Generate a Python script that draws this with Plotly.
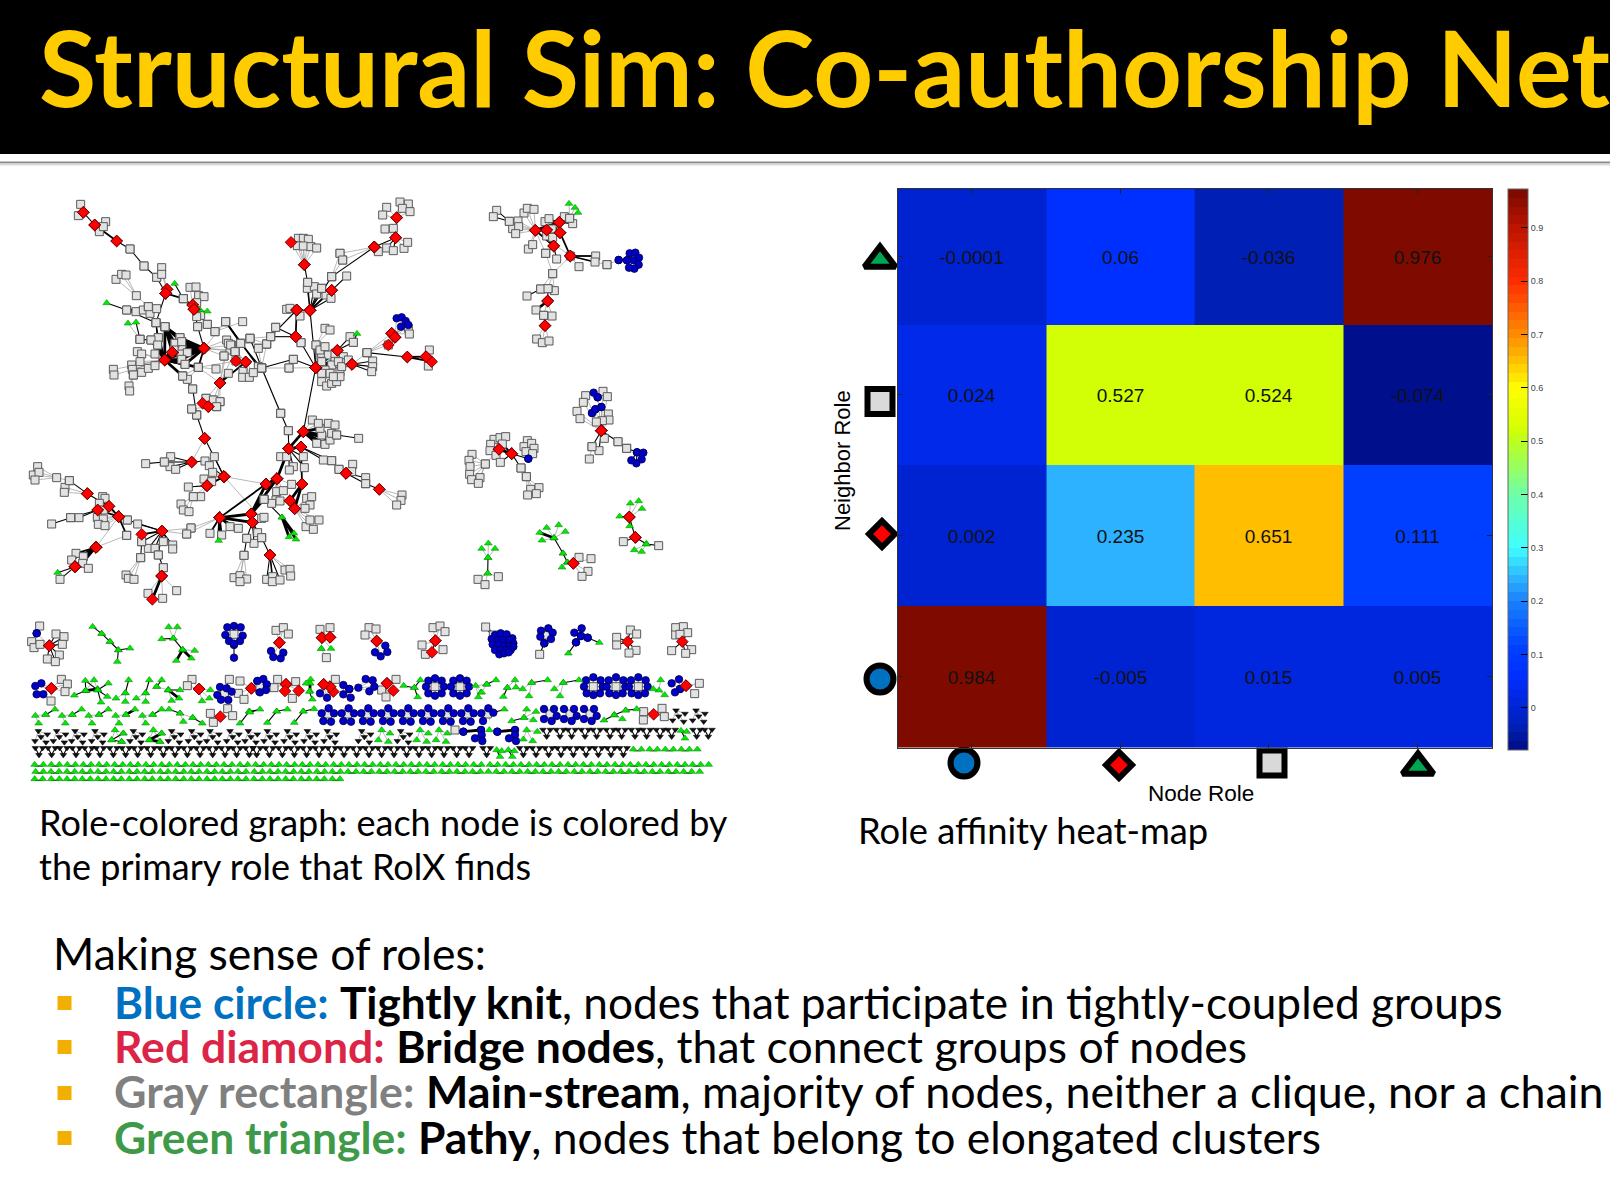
import plotly.graph_objects as go

# ---------- heat-map data ----------
node_roles = ["circle", "diamond", "square", "triangle"]
neighbor_roles = ["circle", "diamond", "square", "triangle"]
row_circle = [0.984, -0.005, 0.015, 0.005]
row_diamond = [0.002, 0.235, 0.651, 0.111]
row_square = [0.024, 0.527, 0.524, -0.074]
row_triangle = [-0.0001, 0.06, -0.036, 0.976]
labels_circle = ["0.984", "-0.005", "0.015", "0.005"]
labels_diamond = ["0.002", "0.235", "0.651", "0.111"]
labels_square = ["0.024", "0.527", "0.524", "-0.074"]
labels_triangle = ["-0.0001", "0.06", "-0.036", "0.976"]
colorbar_ticks = [0, 0.1, 0.2, 0.3, 0.4, 0.5, 0.6, 0.7, 0.8, 0.9]
column_edges = [897.5, 1046, 1194, 1343, 1492]
row_edges = [747.5, 606, 465, 324.5, 189]
ramp_values = [-0.079, -0.036, 0.0, 0.06, 0.111, 0.2, 0.235, 0.3, 0.4, 0.5, 0.527, 0.6, 0.651, 0.7, 0.8, 0.9, 0.973]
ramp_colors = [(0,12,130), (0,32,184), (0,36,215), (0,48,255), (0,64,255), (25,130,255), (42,170,255), (64,255,255), (110,255,170),
               (190,255,30), (216,255,0), (255,255,0), (255,192,0), (255,140,0), (255,45,0), (190,20,0), (120,10,0)]

# ---------- network data: (hub role, hub x, hub y, leaf role, edge weight, [leaf x, leaf y, ...]) ----------
main_stars = [
 ('r',190,97,'g',0,[182,73,175,107]), ('r',190,97,'r',1,[224,135]), ('r',224,135,'r',2,[290,183]),
 ('r',224,135,'g',1,[257,125,238,155,250,140]), ('r',290,183,'g',1,[330,207]), ('g',330,207,'g',1,[372,258]),
 ('g',372,258,'g',1,[410,292]), ('g',410,292,'r',1,[437,340]), ('r',441,328,'g',0,[425,263,425,283]),
 ('r',437,340,'r',2,[441,328]), ('r',437,340,'g',2,[490,356]), ('g',490,356,'r',1,[518,375,522,388]),
 ('t',464,311,'g',1,[490,356]), ('r',518,375,'g',0,[510,322,528,321,536,347,552,350,530,368,542,406,530,410]),
 ('r',522,388,'t',0,[540,390,562,394]), ('r',522,388,'g',1,[533,440,562,433]), ('g',533,440,'r',1,[552,505]),
 ('g',562,433,'g',1,[585,455]), ('g',585,455,'g',0,[617,425,668,425]), ('r',437,340,'g',1,[408,428]),
 ('t',260,369,'g',1,[320,390]), ('g',320,390,'g',1,[348,395,370,390,385,380,390,400,410,386,408,428]),
 ('g',349,347,'g',0,[288,298,305,283,318,285,385,380]), ('t',348,427,'g',1,[360,478]),
 ('g',360,478,'t',0,[324,430]), ('g',360,478,'g',1,[393,480]), ('g',408,428,'g',1,[435,440,415,473,413,495]),
 ('r',434,540,'g',3,[435,440,415,473,393,480,413,495,465,490,485,505,488,588]),
 ('r',434,540,'g',0,[352,515,365,522,360,545,335,555,337,568,365,577,385,565,405,557,405,522,280,568,282,585,340,585]),
 ('r',434,540,'r',3,[457,517]), ('r',434,540,'g',3,[535,562,483,522,485,538,495,553]), ('g',340,585,'g',0,[327,618,329,633]),
 ('r',552,505,'g',3,[480,473,485,485,465,490,462,510,485,505,483,522,502,518,485,538,495,553]), ('r',552,505,'r',3,[457,517]),
 ('g',435,440,'g',3,[480,473,465,490,462,510,485,485]), ('g',435,440,'r',3,[457,517]), ('r',552,505,'g',2,[535,562]),
 ('r',552,505,'g',0,[612,528,620,480,635,495,617,425,630,510,645,515]),
 ('g',535,562,'g',0,[488,588,502,598,588,567,648,543]), ('g',488,588,'g',1,[518,627]), ('r',600,609,'g',2,[625,580]),
 ('r',600,609,'g',0,[535,562,645,515,612,528,625,490]), ('r',600,609,'r',2,[677,546]), ('g',617,425,'g',2,[662,490,715,560]),
 ('r',677,546,'r',1,[648,543]), ('r',677,546,'g',0,[669,574,668,592,688,592,700,578,632,495,645,515]),
 ('g',725,564,'g',1,[690,475,662,490]), ('g',725,564,'g',0,[715,505,740,492,807,564]), ('g',725,564,'g',1,[820,538]),
 ('g',740,492,'g',0,[662,490,690,475]), ('g',752,470,'r',1,[827,470]), ('g',752,470,'g',0,[767,442,740,492,690,475]),
 ('r',827,470,'r',2,[830,390]), ('r',827,470,'g',1,[767,442,843,488]), ('r',830,390,'g',0,[800,388,840,408,810,385]),
 ('r',830,390,'g',1,[752,470]), ('g',843,488,'r',1,[887,563]), ('g',820,538,'r',1,[887,563]), ('g',807,564,'r',0,[887,563]),
 ('r',870,391,'r',1,[887,563,830,390]), ('r',870,391,'g',1,[863,307,862,325,883,320,890,342,918,345,905,325,933,355]),
 ('r',870,391,'r',2,[935,331]), ('r',853,254,'g',1,[863,307]),
 ('r',853,254,'g',0,[835,175,850,175,865,178,832,197,850,198,873,200,890,204]), ('r',853,254,'r',0,[813,187]),
 ('r',935,331,'g',1,[980,288]), ('r',935,331,'g',0,[905,325]), ('g',935,290,'g',0,[960,220,968,240]), ('g',935,290,'r',1,[1063,201]),
 ('r',870,391,'g',1,[935,290]), ('r',1063,201,'g',1,[1075,215]), ('r',1063,201,'g',0,[960,220,968,240]),
 ('r',1127,173,'g',1,[1100,204,1120,212]), ('r',1127,173,'g',0,[1152,205,1163,187,1095,147,1120,145]),
 ('r',1127,173,'r',1,[1063,201,1130,113]), ('r',1130,113,'g',0,[1140,66,1165,72,1147,85,1170,95,1100,82,1088,105]),
 ('g',888,495,'r',1,[887,563]), ('g',888,495,'g',0,[915,445,930,450]), ('r',887,563,'r',3,[952,511]),
 ('r',887,563,'g',3,[905,520,925,525,945,540,935,555,915,570,905,545]),
 ('r',887,563,'g',0,[970,530,960,575,930,580,905,605,920,618,935,610,950,605,960,590,975,548,900,510,915,500,945,520,955,545,905,580,940,590,965,560,985,540]), ('r',887,563,'r',0,[996,553]),
 ('r',952,511,'g',1,[1000,487,990,470]), ('g',1000,487,'t',1,[1011,461]), ('r',996,553,'g',1,[1058,543,1058,560,1055,575]),
 ('r',996,553,'g',0,[1041,518]), ('g',1041,518,'r',1,[1162,531]), ('g',1041,518,'r',0,[1115,460,1125,472,1105,495]),
 ('r',1162,531,'r',2,[1218,530,1235,545]), ('r',1218,530,'g',0,[1228,510,1225,558]),
 ('r',1115,460,'r',3,[1125,472]), ('r',1115,460,'g',0,[1105,495,1165,445,1168,462]), ('r',1125,472,'b',0,[1130,415,1145,412,1157,423,1165,435,1143,440]),
 # lower ring
 ('g',518,627,'g',1,[530,705]), ('g',530,705,'r',1,[554,775]), ('g',530,705,'g',0,[515,687]),
 ('r',600,609,'g',0,[558,655,580,660,600,665,590,680]), ('r',565,680,'r',2,[548,670]), ('r',565,680,'g',0,[558,655,580,660,600,665,590,680,515,687]),
 ('r',554,775,'r',1,[612,890]), ('r',554,775,'r',0,[515,846]), ('r',515,846,'g',1,[433,846,450,860,467,868,452,830,555,843]),
 ('g',433,846,'g',1,[377,851]), ('r',612,890,'g',1,[583,830,568,857]), ('r',612,890,'g',0,[578,877,552,897,575,905]),
 ('r',612,890,'r',2,[561,917]), ('r',612,890,'r',0,[738,912]), ('r',612,890,'g',0,[725,1015]),
 ('r',561,917,'g',1,[505,921]), ('r',561,917,'g',0,[520,950,542,950]), ('g',520,950,'g',0,[483,972,490,990,507,995]),
 ('g',725,564,'g',0,[782,700]), ('g',725,564,'g',1,[782,700]), ('g',782,700,'g',1,[805,752]), ('g',805,752,'r',1,[806,806]),
 ('r',887,563,'r',1,[850,755]), ('r',850,755,'r',3,[806,806]), ('r',850,755,'g',3,[905,765,890,790,915,793,930,780,900,745]),
 ('r',850,755,'g',0,[877,720,895,730,925,730,945,735,935,760,950,765]), ('g',950,765,'g',1,[1016,775]),
 ('r',806,806,'r',3,[771,896,843,801]), ('r',771,896,'r',3,[738,912]), ('r',771,896,'r',3,[693,1002]), ('r',738,912,'r',3,[693,1002]),
 ('r',806,806,'g',1,[782,830,800,830,850,830,820,860,853,863,808,870]), ('r',843,801,'r',2,[846,912]),
 ('r',843,801,'g',1,[910,840,935,842]), ('g',935,842,'g',1,[957,868]), ('g',957,868,'r',1,[978,880]),
 ('r',978,880,'g',1,[998,853,995,875]), ('r',978,880,'g',1,[1037,893,1037,911]), ('g',1037,911,'r',1,[1078,928]),
 ('r',1078,928,'g',0,[1146,945,1143,961,1130,975]), ('r',846,912,'r',3,[810,962,824,986]),
 ('r',824,986,'g',0,[858,1040,870,1020,897,1020,880,1048,860,955,870,975,855,985,875,950]), ('r',810,962,'r',3,[824,986]),
 ('r',771,896,'g',0,[770,935,790,932,815,913,768,960,755,970,780,963,732,958]), ('g',732,958,'r',3,[693,1002]),
 ('r',693,1002,'r',3,[697,1027]), ('r',697,1027,'g',0,[732,1012]), ('r',738,912,'r',2,[599,1013]), ('r',599,1013,'r',3,[697,1027,693,1002]),
 ('t',786,1012,'t',3,[822,1060,807,1071,828,1078]), ('g',732,958,'t',1,[786,1012]),
 ('r',697,1027,'g',1,[680,1075,702,1090,725,1073,713,1058]), ('g',680,1075,'g',1,[672,1126]), ('g',672,1126,'g',0,[642,1193,660,1187,680,1197,660,1205]),
 ('g',725,1073,'r',1,[750,1125]), ('r',750,1125,'g',1,[740,1198,758,1190,757,1205,780,1200]), ('r',750,1125,'g',0,[795,1170,810,1168,812,1188]),
 ('r',599,1013,'t',3,[596,1082]), ('r',599,1013,'g',2,[570,1060,605,1065,630,1040,655,1045]),
 ('r',599,1013,'g',0,[513,1044,500,1062]), ('r',426,1053,'g',0,[513,1044,500,1062]), ('r',426,1053,'r',2,[365,1063]),
 ('r',426,1053,'g',1,[353,1032,322,1020,385,1105,405,1105,430,1085,458,1095,458,1107,415,1125,365,1085]), ('g',415,1125,'g',1,[430,1163]),
 ('g',430,1163,'r',1,[425,1188]), ('r',425,1188,'r',3,[397,1258]), ('r',425,1188,'g',0,[470,1232,428,1255,384,1240]),
 ('g',365,1085,'g',1,[362,1133]), ('g',362,1133,'g',0,[318,1185,325,1195,342,1198]),
 ('g',322,1020,'r',2,[296,1010]), ('r',296,1010,'r',2,[267,979,233,990]), ('r',296,1010,'g',2,[320,1066]), ('r',233,990,'g',1,[152,1013,177,1013]),
 ('g',152,1013,'g',1,[95,1032]), ('r',296,1010,'g',0,[248,950,255,955,238,970,250,990,232,1012,250,1017,235,1033,255,1037]), ('r',267,979,'r',1,[202,941]),
 ('r',202,941,'g',1,[148,902]), ('r',202,941,'g',0,[135,922,133,937]), ('g',110,893,'g',0,[53,860,40,885,57,877,45,900,148,902]),
 ('r',296,1010,'r',0,[228,1102]), ('g',320,1066,'r',0,[228,1102]), ('r',228,1102,'r',3,[165,1160]), ('r',228,1102,'g',2,[168,1120,155,1140,190,1130,188,1150]),
 ('r',165,1160,'g',0,[205,1165]), ('r',165,1160,'t',1,[113,1178]), ('r',165,1160,'g',1,[120,1198]),
]

right_stars = [
 ('r',286,151,'g',0,[252,99,262,85,282,88,208,124,234,123,218,146,236,140,227,161,265,207,278,194,317,220,391,228]),
 ('g',208,124,'g',1,[170,91,160,110]), ('r',286,151,'r',3,[320,150,358,127]), ('r',320,150,'r',3,[360,158,341,198]),
 ('r',358,127,'r',3,[360,158]), ('r',358,127,'g',1,[315,125,327,116,336,147,320,168,338,172,373,110,389,115,398,131]),
 ('r',286,151,'r',2,[341,198]), ('r',360,158,'r',2,[391,228]), ('g',389,115,'t',0,[387,71,405,83,414,98]),
 ('r',341,198,'g',1,[317,220,350,237]), ('r',391,228,'g',2,[467,228,465,246]), ('r',391,228,'g',0,[417,260,338,281,501,254]),
 ('g',501,254,'b',0,[536,240]), ('b',536,240,'b',1,[561,241]),
 ('b',580,241,'b',0,[569,220,586,218,597,233,596,254,583,266,567,263,561,241]),
 ('g',338,281,'g',0,[317,220,343,332,324,326,302,327]), ('g',302,327,'g',1,[261,348]), ('g',324,326,'r',1,[323,363]),
 ('r',323,363,'g',3,[288,390]), ('r',323,363,'g',0,[311,406,336,408]), ('g',311,406,'r',0,[315,437]),
 ('r',315,437,'g',0,[290,477,307,488,327,483]),
 ('r',484,752,'g',0,[437,647,430,667,411,694,420,716,489,634,502,650,505,702,507,720,487,722,469,726,493,775]),
 ('r',484,752,'b',0,[473,652,484,681,466,688,456,699]), ('b',461,638,'b',1,[473,652]), ('b',484,681,'b',1,[456,699,466,688]),
 ('r',484,752,'g',1,[534,785]), ('g',534,785,'g',0,[560,805]), ('g',560,805,'b',1,[591,817]),
 ('b',591,817,'b',1,[610,818,605,838,589,850,574,841]), ('r',484,752,'g',1,[456,800,477,812]), ('g',456,800,'g',0,[448,837]),
 ('r',177,808,'r',3,[215,821]), ('r',177,808,'g',0,[162,778,180,773,197,770,152,793,150,812,168,826,136,852]), ('r',215,821,'g',2,[187,792]),
 ('r',215,821,'g',1,[181,847,243,864]), ('r',215,821,'b',1,[265,836]), ('b',265,836,'g',0,[262,782,252,800,275,790,282,805,258,815,278,821]),
 ('g',136,852,'g',0,[96,823,87,841,90,860,89,883,95,899,120,893,115,910]), ('g',243,864,'g',1,[259,890]), ('g',259,890,'g',0,[272,928,297,923,263,945,289,941]),
 ('t',144,1133,'t',0,[145,1090,125,1106,165,1106]), ('t',144,1133,'t',1,[143,1180]), ('t',143,1180,'g',0,[114,1198,135,1214,175,1190]),
 ('t',342,1074,'t',3,[299,1058]), ('t',342,1074,'t',0,[320,1043,356,1035,376,1055,306,1081]), ('t',342,1074,'t',1,[369,1120]),
 ('t',369,1120,'t',1,[382,1147]), ('t',382,1147,'t',0,[366,1162]), ('r',400,1150,'t',1,[382,1147]), ('r',400,1150,'g',0,[417,1132,453,1136,444,1174,426,1189]),
 ('r',568,1011,'t',0,[571,970,596,963,606,986]), ('r',568,1011,'t',1,[539,1009,569,1038]), ('r',568,1011,'r',1,[586,1072]),
 ('r',586,1072,'g',1,[550,1085]), ('r',586,1072,'t',1,[619,1092]), ('t',619,1092,'t',0,[583,1110,605,1115]), ('t',619,1092,'g',1,[656,1097]),
]

strip7_stars = [
 ('r',88,92,'g',1,[35,80,42,98,60,88,108,57,132,65,127,88,118,120,82,132,106,140]), ('r',88,92,'b',0,[50,55]), ('b',50,55,'g',0,[59,33]),
 ('t',218,35,'t',1,[245,56]), ('t',245,56,'t',1,[270,80]), ('t',270,80,'t',1,[295,105]), ('t',295,105,'t',1,[330,100,292,140]),
 ('t',460,70,'t',0,[446,36,472,36]), ('t',460,70,'t',1,[425,72,488,104]), ('t',488,104,'t',3,[469,137,514,130]), ('t',488,104,'t',0,[524,107]),
 ('b',642,90,'b',1,[642,128]), ('g',642,58,'b',0,[642,33,622,37,662,37,616,60,668,62,627,78,660,78,642,86]),
 ('r',94,220,'g',0,[124,193,142,207,135,230,93,258]), ('r',94,220,'b',0,[46,213,64,205,50,238,70,238]),
 ('t',197,227,'t',3,[233,222]), ('t',196,197,'t',1,[233,225,197,227]), ('t',222,195,'t',0,[197,227,233,225]), ('t',233,225,'t',1,[265,205,262,245,243,262]), ('t',197,227,'t',1,[163,241]),
 ('t',316,234,'t',1,[326,195]), ('t',316,234,'t',0,[288,250,316,260]), ('t',377,234,'t',1,[388,195]), ('t',377,234,'t',0,[349,250,377,260]),
 ('t',425,195,'t',1,[410,215]), ('t',410,215,'t',0,[445,225]), ('t',445,225,'t',1,[480,225]), ('t',445,225,'t',3,[477,250]), ('t',445,225,'t',0,[455,257]),
 ('r',537,222,'g',0,[516,193,502,212]), ('r',537,222,'t',0,[571,225,568,250,546,258]),
 ('g',613,235,'b',0,[620,220,600,216,635,230,592,240,603,254,625,255]), ('g',613,235,'g',1,[628,193]),
 ('r',694,220,'g',0,[660,198,655,235,672,253]), ('r',694,220,'b',0,[712,198,718,230]),
 ('t',46,302,'t',0,[77,299,56,325]), ('t',77,299,'t',1,[105,283]), ('t',126,302,'t',0,[157,299,136,325]), ('t',157,299,'t',1,[185,283]),
 ('t',206,302,'t',0,[237,299,216,325]), ('t',237,299,'t',1,[265,283]), ('t',287,302,'t',0,[318,299,297,325]), ('t',318,299,'t',3,[345,283]),
 ('t',367,302,'t',0,[398,299,377,325]), ('t',398,299,'t',1,[425,283]), ('t',447,283,'t',1,[480,295]), ('t',480,295,'t',0,[518,308,490,320]), ('t',518,308,'t',1,[547,325]),
 ('r',601,305,'g',0,[571,295,623,281,638,302,580,322]), ('t',660,325,'t',1,[688,289]), ('t',688,289,'t',1,[728,283]),
 ('t',285,345,'t',0,[310,355,275,375,305,380]), ('t',275,375,'t',1,[310,355,305,380]), ('t',400,345,'t',0,[425,355,388,375,420,380]), ('t',388,375,'t',3,[425,355,420,380]),
]
strip8_stars = [
 ('r',88,83,'g',0,[78,46,100,38,115,57]), ('r',88,83,'b',0,[63,108,70,126,92,130,100,113]),
 ('r',216,68,'r',1,[240,67]), ('r',216,68,'t',0,[214,101,243,101]), ('r',240,67,'g',0,[210,43,240,38]), ('t',214,101,'g',0,[229,128]),
 ('r',380,78,'g',0,[357,38,378,42,345,60]), ('r',380,78,'b',0,[406,92,412,111,392,124,375,112]),
 ('r',556,77,'r',1,[546,112]), ('r',556,77,'g',0,[549,38,570,33,585,50,516,90,579,104,526,118]),
 ('g',30,212,'b',0,[22,198,40,192,50,208,48,225,30,232]),
 ('r',108,208,'g',0,[83,193,72,218,137,200,127,250]), ('r',108,208,'r',0,[105,228,146,227]),
 ('t',180,205,'t',3,[180,228]), ('t',180,205,'t',0,[168,205,182,193]), ('t',178,230,'t',1,[187,253]),
 ('r',221,208,'r',1,[240,215,250,230]), ('r',240,215,'g',0,[256,193]), ('r',221,208,'b',0,[210,235,231,248]),
 ('b',280,210,'b',0,[298,222,280,238,302,248]), ('b',325,218,'b',0,[298,222,347,192,368,196,373,215,358,229]),
 ('r',411,205,'r',0,[430,227]), ('r',411,205,'g',0,[438,193,395,225,408,246]), ('t',461,212,'t',1,[493,218]), ('t',493,218,'t',1,[511,195,503,246]),
 ('g',555,215,'b',0,[555,190,535,197,575,197,528,215,582,215,535,235,575,235,555,242]),
 ('g',630,215,'b',0,[630,190,610,197,650,197,603,215,657,215,610,235,650,235,630,242]),
 ('t',677,212,'t',0,[710,208,693,232,685,246]),
 ('t',30,283,'t',1,[0,292]), ('t',52,323,'t',1,[80,289]), ('t',80,289,'t',1,[112,283]), ('t',133,323,'t',1,[160,289]), ('t',160,289,'t',1,[192,282]),
 ('t',395,345,'t',0,[420,355,385,375,415,380]), ('t',510,345,'t',0,[535,355,500,375,530,380]), ('t',567,345,'t',0,[592,355,558,375,588,380]),
 ('g',615,345,'b',0,[640,350]), ('b',640,350,'b',3,[693,345]), ('b',693,345,'b',0,[695,360,675,370,697,378]),
]
strip9_stars = [
 ('g',17,36,'g',3,[40,60]),
 ('b',68,85,'b',0,[45,60,62,55,80,58,97,70,35,72,52,75,70,75,88,75,100,85,38,88,55,90,72,92,88,92,100,95,45,105,62,105,80,105,92,105,58,118,72,115,86,112]),
 ('g',200,60,'b',0,[205,40,183,47,218,53,181,65,213,72,193,85]), ('b',193,85,'g',1,[179,118]),
 ('b',305,40,'b',1,[283,53,303,63]), ('b',303,63,'b',1,[323,68,288,82]), ('b',323,68,'t',1,[358,83]), ('b',288,82,'t',1,[265,115]),
 ('r',443,80,'g',1,[451,45,470,57,410,67,410,90,468,106,447,114]), ('r',607,80,'g',1,[587,38,610,35,623,53,587,60,635,104,575,107,617,115,600,58]),
 ('t',20,208,'t',1,[48,195]), ('t',20,208,'t',0,[5,232]), ('t',105,195,'t',0,[82,218,108,217]), ('t',82,218,'t',1,[70,245]),
 ('t',155,203,'t',1,[203,195]), ('t',155,203,'t',0,[128,222,147,243]), ('t',250,203,'t',1,[297,195]), ('t',250,203,'t',0,[223,222,240,243]),
 ('g',340,215,'b',0,[340,187,318,196,362,196,312,215,368,215,320,235,360,235,340,240]),
 ('g',408,215,'b',0,[408,187,386,196,430,196,380,215,436,215,388,235,428,235,408,240]),
 ('g',475,215,'b',0,[475,187,453,196,497,196,447,215,503,215,455,235,495,235,475,240]),
 ('t',537,226,'t',0,[542,195,520,222,554,240]),
 ('r',618,212,'b',1,[600,222]), ('b',600,222,'b',0,[575,205,597,193,585,232]), ('r',618,212,'g',0,[658,205,644,236]),
 ('b',40,293,'t',1,[73,283]), ('t',95,318,'t',1,[132,308]), ('t',132,308,'t',0,[160,315,140,283,168,290]),
 ('g',210,297,'b',0,[192,282,222,282,230,303,215,318,192,312]), ('g',270,297,'b',0,[252,282,282,282,290,303,275,318,252,312]),
 ('g',330,297,'b',0,[312,282,342,282,350,303,335,318,312,312]),
 ('t',372,316,'t',1,[403,300]), ('t',403,300,'t',0,[427,312]), ('t',403,300,'t',1,[437,286]), ('t',437,286,'t',1,[470,282]),
 ('r',521,298,'g',0,[491,290,490,315,546,280,553,305]),
 ('t',28,345,'b',0,[52,350]), ('b',52,350,'b',3,[105,345]), ('b',105,345,'b',0,[105,360,87,370,108,378]), ('t',140,345,'t',0,[172,350,130,373,158,378]),
 ('t',603,347,'t',1,[620,350,615,370]), ('t',50,405,'t',1,[65,408,60,425]), ('t',85,405,'t',1,[103,408,97,425]),
]
# repeated blue five-circle clusters and black clusters: anchors
blue_row_anchors_8 = [233, 293, 352, 412, 472, 532, 592, 652, 712]
blue_row_offsets = [3,-17, -18,-2, 19,-2, -13,21, 10,23]
black_star_anchors_7 = [65, 120, 175, 235, 350, 465, 525, 580, 640, 695]
black_star_anchors_8 = [62, 122, 182, 242, 345, 462]
black_star_anchors_9 = [598, 658]
black_star_hub = (-10, -12)
black_star_offsets = [17,-2, -20,18, 13,22, -2,6]
black_v_anchors_7 = [57,95,130,168,205,240,280,317,353,392,430,465,502,540,578,615,650,688]
black_v_anchors_8 = [20,58,97,133,170,207,245,282,320,357,395,432,470,507,545,582,620,657]
black_v_anchors_9a = [20,130,168,206,243,280,318,355,393,430]
black_v_anchors_9b = [200,240,275,315,350,390,425,465,500,540,575,650,685]
black_v_hub = (0, 13)
black_v_offsets = [-11,-8, 11,-8]

# green triangle rows at the bottom of the graph
green_row_a7 = [44,70,94,118,142,166,190,213,237,260,284,308,331,354,378,401,425,448,472,496,519,542,565,589,612,636,660,683]
green_row_a8 = [17,41,64,87,110,134,157,180,204,227,251,274,297,321,344,368,391,414,438,461,484,508,531,554,578,601,624,647,671,694]
green_row_a9 = [30,53,77,100,123,147,170,193,216,240,264,287,310,334,358,381,405,428,451,475,498,521,545,568,592,615,638,662,686]
green_row_b7 = [47,70,93,117,141,164,187,211,234,258,281,304,328,351,374,397,421,444,467,491,514,537,561,584,607,631,654,678]
green_row_b8 = [13,37,60,84,107,131,154,177,201,224,247,271,294,318,341,364,388,411,434,458,481,504,528,551,575,598,621,645,668,691,715]
green_row_b9 = [49,72,96,119,143,166,189,213,236,259,283,306,330,353,377,400,423,447,470,493,517,540,565,588,611,635,659]
green_row_c7 = [44,68,94,118,141,164,187,211,234,258,281,304,328,351,374,397,421,444,467,491,514,537,561,584,607,631,654,678]
green_row_c8 = [12,37,60,84,107,130,154,177,200,223,247,270]
green_row_d9 = [460,484,509,532,556,580,604,628,652]

title_text = "Structural Sim: Co-authorship Net"
caption_left = ["Role-colored graph: each node is colored by", "the primary role that RolX finds"]
caption_right = "Role affinity heat-map"
intro_text = "Making sense of roles:"
bullet_lines = [
 ("#0070C0", "Blue circle:", "Tightly knit", ", nodes that participate in tightly-coupled groups"),
 ("#DC2546", "Red diamond:", "Bridge nodes", ", that connect groups of nodes"),
 ("#808080", "Gray rectangle:", "Main-stream", ", majority of nodes, neither a clique, nor a chain"),
 ("#3E9A48", "Green triangle:", "Pathy", ", nodes that belong to elongated clusters"),
]

W, H = 1610, 1184
fig = go.Figure()
layout = dict(width=W, height=H, margin=dict(l=0, r=0, t=0, b=0), paper_bgcolor="white", plot_bgcolor="rgba(0,0,0,0)", showlegend=False, hovermode=False)
hidden = dict(visible=False, showgrid=False, zeroline=False, fixedrange=True)

# page axis in slide pixels
layout["xaxis"] = dict(hidden, domain=[0, 1], range=[0, W], anchor="y")
layout["yaxis"] = dict(hidden, domain=[0, 1], range=[H, 0], anchor="x")

# one axis pair per crop of the graph: (id, left, top, width, height)
frames = {
 "main": (2, 20, 180, 420, 420),
 "right": (3, 440, 180, 240, 420),
 "s7": (4, 20, 615, 240, 170),
 "s8": (5, 250, 615, 240, 170),
 "s9": (6, 480, 615, 240, 170),
}
for n, l, t, w, h in frames.values():
    layout[f"xaxis{n}"] = dict(hidden, domain=[l / W, (l + w) / W], range=[0, w * 3], anchor=f"y{n}")
    layout[f"yaxis{n}"] = dict(hidden, domain=[1 - (t + h) / H, 1 - t / H], range=[h * 3, 0], anchor=f"x{n}")

MARK = {
 "g": dict(symbol="square", size=8, color="#E2E2E2", line=dict(color="#5A5A5A", width=1)),
 "t": dict(symbol="triangle-up", size=6.8, color="#00EA00", line=dict(color="#0A7A0A", width=0.5)),
 "b": dict(symbol="circle", size=7.5, color="#0000C8", line=dict(color="#00004A", width=0.8)),
 "k": dict(symbol="triangle-down", size=5.8, color="#111111", line=dict(color="#000000", width=0.5)),
 "r": dict(symbol="diamond", size=9, color="#FF0000", line=dict(color="#5A0000", width=0.8)),
}
EDGE = {0: ("#9A9A9A", 0.7), 1: ("#000000", 1.1), 2: ("#000000", 1.8), 3: ("#000000", 2.8)}

def draw(frame, stars, rows=()):
    n = frames[frame][0]
    ex = {k: [] for k in EDGE}
    ey = {k: [] for k in EDGE}
    nx = {k: [] for k in MARK}
    ny = {k: [] for k in MARK}
    for hub, hx, hy, leaf, wgt, pts in stars:
        nx[hub].append(hx); ny[hub].append(hy)
        for i in range(0, len(pts), 2):
            ex[wgt] += [hx, pts[i], None]
            ey[wgt] += [hy, pts[i + 1], None]
            nx[leaf].append(pts[i]); ny[leaf].append(pts[i + 1])
    for xs, y in rows:
        for i, x in enumerate(xs):
            nx["t"].append(x); ny["t"].append(y)
            if i % 2 == 0 and i + 1 < len(xs):
                ex[1] += [x, xs[i + 1], None]
                ey[1] += [y + 4, y + 4, None]
    for k, (c, lw) in EDGE.items():
        if ex[k]:
            fig.add_trace(go.Scatter(x=ex[k], y=ey[k], mode="lines", line=dict(color=c, width=lw), xaxis=f"x{n}", yaxis=f"y{n}", hoverinfo="skip", cliponaxis=False))
    for k in ["g", "k", "b", "t", "r"]:
        if nx[k]:
            fig.add_trace(go.Scatter(x=nx[k], y=ny[k], mode="markers", marker=MARK[k], xaxis=f"x{n}", yaxis=f"y{n}", hoverinfo="skip", cliponaxis=False))

def motif(anchors, y, hub, leaf, wgt, offsets, hub_off=(0, 0)):
    out = []
    for a in anchors:
        out.append((hub, a + hub_off[0], y + hub_off[1], leaf, wgt, [offsets[i] + (a if i % 2 == 0 else y) for i in range(len(offsets))]))
    return out

def black_star(anchors, y):
    return motif(anchors, y, "k", "k", 0, black_star_offsets, black_star_hub)

def black_v(anchors, y):
    return motif(anchors, y, "k", "k", 1, black_v_offsets, black_v_hub)

draw("main", main_stars)
draw("right", right_stars)
draw("s7", strip7_stars + black_star(black_star_anchors_7, 360) + black_v(black_v_anchors_7, 407),
     [(green_row_a7, 449), (green_row_b7, 470), (green_row_c7, 492)])
draw("s8", strip8_stars + motif(blue_row_anchors_8, 297, "g", "b", 0, blue_row_offsets) + black_star(black_star_anchors_8, 360) + black_v(black_v_anchors_8, 407),
     [(green_row_a8, 449), (green_row_b8, 470), (green_row_c8, 492)])
draw("s9", strip9_stars + black_star(black_star_anchors_9, 298) + black_v(black_v_anchors_9a, 407) + black_v(black_v_anchors_9b, 352),
     [(green_row_a9, 449), (green_row_b9, 470), (green_row_d9, 403)])

ZMIN, ZMAX = ramp_values[0], ramp_values[-1]
def ramp(v):
    for i in range(len(ramp_values) - 1):
        a, b = ramp_values[i], ramp_values[i + 1]
        if v <= b:
            t = (v - a) / (b - a)
            c0, c1 = ramp_colors[i], ramp_colors[i + 1]
            return "rgb(%d,%d,%d)" % tuple(c0[j] + (c1[j] - c0[j]) * t for j in range(3))
    return "rgb(%d,%d,%d)" % ramp_colors[-1]
LEVELS = 64
cscale = []
for i in range(LEVELS):
    c = ramp(ZMIN + (ZMAX - ZMIN) * (i + 0.5) / LEVELS)
    cscale += [[i / LEVELS, c], [(i + 1) / LEVELS, c]]

col_centers = [(column_edges[i] + column_edges[i + 1]) / 2 for i in range(4)]
row_centers = [(row_edges[i] + row_edges[i + 1]) / 2 for i in range(4)]
layout["xaxis7"] = dict(domain=[column_edges[0] / W, column_edges[-1] / W], range=[column_edges[0], column_edges[-1]], anchor="y7", showgrid=False, zeroline=False, showline=True,
                        linecolor="#333", linewidth=1, mirror="ticks", ticks="inside", ticklen=5, tickcolor="#222", tickvals=col_centers, showticklabels=False, fixedrange=True)
layout["yaxis7"] = dict(domain=[1 - row_edges[0] / H, 1 - row_edges[-1] / H], range=[row_edges[0], row_edges[-1]], anchor="x7", showgrid=False, zeroline=False, showline=True,
                        linecolor="#333", linewidth=1, mirror="ticks", ticks="inside", ticklen=5, tickcolor="#222", tickvals=row_centers, showticklabels=False, fixedrange=True)
fig.add_trace(go.Heatmap(
    x=column_edges, y=row_edges, z=[row_circle, row_diamond, row_square, row_triangle],
    text=[labels_circle, labels_diamond, labels_square, labels_triangle], texttemplate="%{text}",
    textfont=dict(family="Liberation Sans", size=19, color="#111"), colorscale=cscale, zmin=ZMIN, zmax=ZMAX,
    xaxis="x7", yaxis="y7", hoverinfo="skip",
    colorbar=dict(thicknessmode="pixels", thickness=20, lenmode="pixels", len=561, x=1508 / W, xanchor="left", y=1 - 189 / H, yanchor="top",
                  xpad=0, ypad=0, outlinecolor="#666", outlinewidth=1, ticks="inside", ticklen=7, tickcolor="#000", tickwidth=1,
                  tickvals=colorbar_ticks, ticktext=[str(v) for v in colorbar_ticks], tickfont=dict(family="Liberation Sans", size=9, color="#444"))))

# role glyphs beside the heat map, on the page axis
glyphs = {"circle": ("circle", 27, "#0070C0"), "diamond": ("diamond", 20, "#FF0000"), "square": ("square", 25, "#D9D9D9"), "triangle": ("triangle-up", 27, "#00A651")}
glyph_x_left = [880, 882, 880, 880]
glyph_y_left = [679, 534, 401.5, 260]
glyph_x_bottom = [964, 1119, 1272, 1418]
glyph_y_bottom = [763, 765, 763, 767]
for role, x, y in list(zip(neighbor_roles, glyph_x_left, glyph_y_left)) + list(zip(node_roles, glyph_x_bottom, glyph_y_bottom)):
    s, sz, c = glyphs[role]
    fig.add_trace(go.Scatter(x=[x], y=[y], mode="markers", marker=dict(symbol=s, size=sz, color=c, line=dict(color="#000", width=6)), hoverinfo="skip", cliponaxis=False))

# bullets
bullet_y = [1003, 1047, 1093, 1138]
bullet_text_y = [1001, 1045, 1091, 1136]
bullet_text_size = [44.2, 44.5, 44.8, 44.4]
fig.add_trace(go.Scatter(x=[64.5] * 4, y=bullet_y, mode="markers", marker=dict(symbol="square", size=14, color="#F2AF00"), hoverinfo="skip"))

BODY = "Lato"
def note(x, y, text, size, color="#000", family=BODY, **kw):
    return dict(x=x, y=y, xref="x", yref="y", text=text, showarrow=False, xanchor=kw.pop("xanchor", "left"), yanchor="middle",
                font=dict(family=family, size=size, color=color), **kw)

notes = [
 note(37, 66, f"<b>{title_text}</b>", 104.5, "#FFCC00"),
 note(37, 822, caption_left[0], 36),
 note(37, 866, caption_left[1], 36),
 note(856, 830, caption_right, 36.3),
 note(51, 952, intro_text, 44.5),
 note(1201, 793, "Node Role", 22.5, "#000", family="Liberation Sans", xanchor="center"),
 note(842, 461, "Neighbor Role", 22, "#000", family="Liberation Sans", xanchor="center", textangle=-90),
]
for (c, a, b, rest), y, sz in zip(bullet_lines, bullet_text_y, bullet_text_size):
    notes.append(note(112, y, f'<span style="color:{c}"><b>{a}</b></span> <b>{b}</b>{rest}', sz))
layout["annotations"] = notes
layout["shapes"] = [
 dict(type="rect", xref="x", yref="y", x0=0, x1=W, y0=0, y1=154, fillcolor="#000", line=dict(width=0), layer="below"),
 dict(type="rect", xref="x", yref="y", x0=0, x1=W, y0=161.5, y1=163.5, fillcolor="#8A8A8A", line=dict(width=0), layer="below"),
 dict(type="rect", xref="x", yref="y", x0=0, x1=W, y0=163.5, y1=165.5, fillcolor="#DADADA", line=dict(width=0), layer="below"),
]
fig.update_layout(**layout)
fig.write_html("out.html", config=dict(displayModeBar=False),
               post_script="document.body.style.margin='0';document.body.style.overflow='hidden';")
